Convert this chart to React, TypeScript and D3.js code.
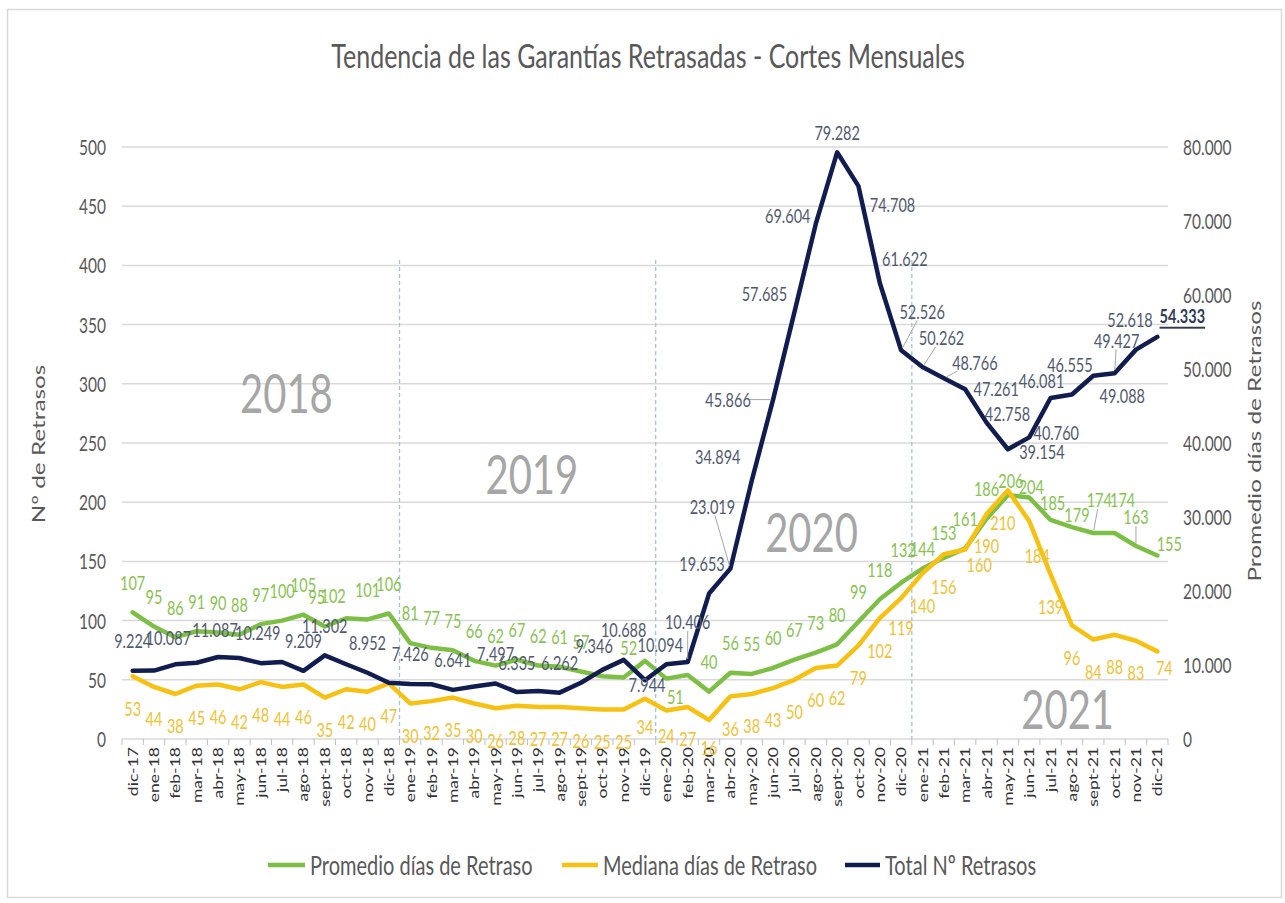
import React from "react";
import * as d3 from "d3";

const months = [
  "dic-17",
  "ene-18", "feb-18", "mar-18", "abr-18", "may-18", "jun-18", "jul-18", "ago-18", "sept-18", "oct-18", "nov-18", "dic-18",
  "ene-19", "feb-19", "mar-19", "abr-19", "may-19", "jun-19", "jul-19", "ago-19", "sept-19", "oct-19", "nov-19", "dic-19",
  "ene-20", "feb-20", "mar-20", "abr-20", "may-20", "jun-20", "jul-20", "ago-20", "sept-20", "oct-20", "nov-20", "dic-20",
  "ene-21", "feb-21", "mar-21", "abr-21", "may-21", "jun-21", "jul-21", "ago-21", "sept-21", "oct-21", "nov-21", "dic-21",
];

// Promedio días de Retraso (eje izq.)
const promedio = [
  107, 95, 86, 91, 90, 88, 97, 100, 105, 95, 102, 101, 106,
  81, 77, 75, 66, 62, 67, 62, 61, 57, 53, 52, 66,
  51, 54, 40, 56, 55, 60, 67, 73, 80, 99, 118, 132,
  144, 153, 161, 186, 206, 204, 185, 179, 174, 174, 163, 155,
];

// Mediana días de Retraso (eje izq.)
const mediana = [
  53, 44, 38, 45, 46, 42, 48, 44, 46, 35, 42, 40, 47,
  30, 32, 35, 30, 26, 28, 27, 27, 26, 25, 25, 34,
  24, 27, 16, 36, 38, 43, 50, 60, 62, 79, 102, 119,
  140, 156, 160, 190, 210, 184, 139, 96, 84, 88, 83, 74,
];

// Total Nº Retrasos (eje der.)
const total = [
  9224, 9250, 10087, 10300, 11087, 10950, 10249, 10400, 9209, 11302, 10100, 8952, 7600,
  7426, 7400, 6641, 7100, 7497, 6335, 6500, 6262, 7600, 9346, 10688, 7944,
  10094, 10406, 19653, 23019, 34894, 45866, 57685, 69604, 79282, 74708, 61622, 52526,
  50262, 48766, 47261, 42758, 39154, 40760, 46081, 46555, 49088, 49427, 52618, 54333,
];

const leftTicks = [0, 50, 100, 150, 200, 250, 300, 350, 400, 450, 500];
const rightTicks = [0, 10000, 20000, 30000, 40000, 50000, 60000, 70000, 80000];

// labels left out in the original
const hiddenTotal = ["ene-18", "mar-18", "may-18", "jul-18", "oct-18", "dic-18", "feb-19", "abr-19", "jul-19", "sept-19"];
const hiddenPromedio = ["oct-19", "dic-19", "feb-20"];

const yearMarks = [
  { text: "2018", at: 7.2, value: 293 },
  { text: "2019", at: 18.7, value: 225 },
  { text: "2020", at: 31.8, value: 176 },
  { text: "2021", at: 43.8, value: 26 },
];
const yearBreaks = ["ene-19", "ene-20", "ene-21"];

// label nudges (dx, dy) by month index
const totalNudge: Record<number, [number, number]> = {
  2: [-7, -27], 4: [-3, -27], 6: [-3, -31], 22: [-8, -24], 24: [2, 4], 25: [-6, -20],
  26: [0, -40], 27: [-7, -30], 28: [-18, -62], 29: [-34, -24], 30: [-45, 0], 31: [-30, -19],
  32: [-28, -8], 33: [0, -20], 34: [34, 18], 35: [25, -24], 36: [21, -39], 37: [19, -29],
  38: [31, -16], 39: [31, -1], 40: [21, -9], 41: [34, 2], 42: [27, -5], 43: [-9, -17],
  44: [-2, -30], 45: [29, 20], 46: [2, -33], 47: [-6, -30], 48: [25, -21],
};
const totalLeaders = [26, 28, 30, 36, 37, 38, 46];
const promNudge: Record<number, [number, number]> = {
  9: [-8, -30], 10: [-13, -23], 23: [5, -30], 25: [9, 18], 36: [2, -33], 37: [0, -20],
  38: [0, -25], 41: [3, -14], 42: [2, -11], 43: [2, -17], 44: [5, -12], 45: [6, -33],
  46: [8, -33], 47: [0, -29], 48: [12, -12],
};
const promLeaders = [45, 47];
const medNudge: Record<number, [number, number]> = {
  24: [0, 28], 25: [0, 25], 27: [0, 28], 36: [0, 30], 39: [14, 15], 41: [-5, 32], 42: [8, 34], 48: [7, 16],
};

const GREEN = "#7dbf45";
const YELLOW = "#f6c113";
const NAVY = "#121d4f";
const FONT = "Lato, 'Open Sans', sans-serif";
const SY = 1.35;

const fmt = d3.formatLocale({ decimal: ",", thousands: ".", grouping: [3], currency: ["", ""] }).format(",");

function Txt(props: {
  x: number; y: number; size: number; fill: string; anchor?: string; rot?: number;
  weight?: string | number; deco?: string; children: React.ReactNode;
}) {
  const { x, y, size, fill, anchor = "middle", rot = 0, weight, deco, children } = props;
  return (
    <text
      transform={`translate(${x},${y}) scale(1,${SY})${rot ? ` rotate(${rot})` : ""}`}
      fontSize={size}
      fill={fill}
      textAnchor={anchor as any}
      dominantBaseline="central"
      fontFamily={FONT}
      fontWeight={weight}
      textDecoration={deco}
    >
      {children}
    </text>
  );
}

export default function App() {
  const W = 1285, H = 903;
  const x = d3.scalePoint<string>().domain(months).range([122, 1168]).padding(0.5);
  const xi = d3.scaleLinear().domain([0, months.length - 1]).range([x(months[0])!, x(months[months.length - 1])!]);
  const yL = d3.scaleLinear().domain([0, 500]).range([739, 147]);
  const yR = d3.scaleLinear().domain([0, 80000]).range([739, 147]);
  const step = x.step();

  const lineL = d3.line<number>().x((_, i) => x(months[i])!).y((d) => yL(d));
  const lineR = d3.line<number>().x((_, i) => x(months[i])!).y((d) => yR(d));

  const leader = (px: number, py: number, lx: number, ly: number, key: string) => {
    const dx = px - lx, dy = py - ly;
    const hw = 22, hh = 9;
    const t = Math.min(Math.abs(dx) > 0 ? hw / Math.abs(dx) : 1e9, Math.abs(dy) > 0 ? hh / Math.abs(dy) : 1e9);
    const sx = lx + dx * t, sy = ly + dy * t;
    const len = Math.hypot(px - sx, py - sy);
    const ex = px - ((px - sx) / len) * 3, ey = py - ((py - sy) / len) * 3;
    return <line key={key} x1={sx} y1={sy} x2={ex} y2={ey} stroke="#a6a6a6" strokeWidth={1} />;
  };

  return (
    <svg width={W} height={H} style={{ position: "absolute", left: 0, top: 0, background: "#fff" }}>
      <rect x={7.5} y={9.5} width={1274} height={888} fill="#fff" stroke="#d9d9d9" strokeWidth={1.5} />

      <Txt x={648} y={55} size={25} fill="#595959">Tendencia de las Garantías Retrasadas - Cortes Mensuales</Txt>

      {/* grid */}
      {leftTicks.map((t) => (
        <line key={"g" + t} x1={122} x2={1168} y1={yL(t)} y2={yL(t)} stroke="#d9d9d9" strokeWidth={1.5} />
      ))}
      {leftTicks.map((t) => (
        <Txt key={"l" + t} x={106} y={yL(t)} size={15.5} fill="#595959" anchor="end">{t}</Txt>
      ))}
      {rightTicks.map((t) => (
        <Txt key={"r" + t} x={1183} y={yR(t)} size={15.5} fill="#595959" anchor="start">{fmt(t)}</Txt>
      ))}
      <Txt x={38} y={444} size={18} fill="#595959" rot={-90}>Nº de Retrasos</Txt>
      <Txt x={1254} y={441} size={18} fill="#595959" rot={-90}>Promedio días de Retrasos</Txt>

      {/* x axis */}
      {months.map((m) => (
        <line key={"t" + m} x1={x(m)! - step / 2} x2={x(m)! - step / 2} y1={739} y2={745} stroke="#bfbfbf" />
      ))}
      <line x1={1168} x2={1168} y1={739} y2={745} stroke="#bfbfbf" />
      {months.map((m) => (
        <Txt key={"x" + m} x={x(m)!} y={747} size={13} fill="#333333" anchor="end" rot={-90}>{m}</Txt>
      ))}

      {/* year separators */}
      {yearBreaks.map((m) => (
        <line key={"b" + m} x1={x(m)! - step / 2} x2={x(m)! - step / 2} y1={260} y2={739}
          stroke="#9dc3e6" strokeWidth={1.3} strokeDasharray="4 3" />
      ))}
      {yearMarks.map((d) => (
        <Txt key={d.text} x={xi(d.at)} y={yL(d.value)} size={40} fill="#a6a6a6">{d.text}</Txt>
      ))}

      {/* lines */}
      <path d={lineL(promedio)!} fill="none" stroke={GREEN} strokeWidth={4.5} strokeLinejoin="round" strokeLinecap="round" />
      <path d={lineL(mediana)!} fill="none" stroke={YELLOW} strokeWidth={4.5} strokeLinejoin="round" strokeLinecap="round" />
      <path d={lineR(total)!} fill="none" stroke={NAVY} strokeWidth={4.5} strokeLinejoin="round" strokeLinecap="round" />

      {/* leaders */}
      {totalLeaders.map((i) => {
        const [dx, dy] = totalNudge[i];
        const px = x(months[i])!, py = yR(total[i]);
        return leader(px, py, px + dx, py + dy, "tl" + i);
      })}
      {promLeaders.map((i) => {
        const [dx, dy] = promNudge[i];
        const px = x(months[i])!, py = yL(promedio[i]);
        return leader(px, py, px + dx, py + dy, "pl" + i);
      })}

      {/* data labels */}
      {promedio.map((v, i) => {
        if (hiddenPromedio.includes(months[i])) return null;
        const [dx, dy] = promNudge[i] || [0, -30];
        return <Txt key={"p" + i} x={x(months[i])! + dx} y={yL(v) + dy} size={14.5} fill="#86c34f">{v}</Txt>;
      })}
      {mediana.map((v, i) => {
        const [dx, dy] = medNudge[i] || [0, 32];
        return <Txt key={"m" + i} x={x(months[i])! + dx} y={yL(v) + dy} size={14.5} fill="#f0c232">{v}</Txt>;
      })}
      {total.map((v, i) => {
        if (hiddenTotal.includes(months[i])) return null;
        const [dx, dy] = totalNudge[i] || [0, -30];
        const last = i === total.length - 1;
        return (
          <Txt key={"n" + i} x={x(months[i])! + dx} y={yR(v) + dy} size={14.5}
            fill={last ? "#2e3a55" : "#505a6e"} weight={last ? 700 : undefined} deco={last ? "underline" : undefined}>
            {fmt(v)}
          </Txt>
        );
      })}

      {/* legend */}
      <line x1={268} x2={305} y1={865} y2={865} stroke={GREEN} strokeWidth={4.5} />
      <Txt x={310} y={865} size={20} fill="#595959" anchor="start">Promedio días de Retraso</Txt>
      <line x1={562} x2={598} y1={865} y2={865} stroke={YELLOW} strokeWidth={4.5} />
      <Txt x={603} y={865} size={20} fill="#595959" anchor="start">Mediana días de Retraso</Txt>
      <line x1={845} x2={880} y1={865} y2={865} stroke={NAVY} strokeWidth={4.5} />
      <Txt x={885} y={865} size={20} fill="#595959" anchor="start">Total Nº Retrasos</Txt>
    </svg>
  );
}
